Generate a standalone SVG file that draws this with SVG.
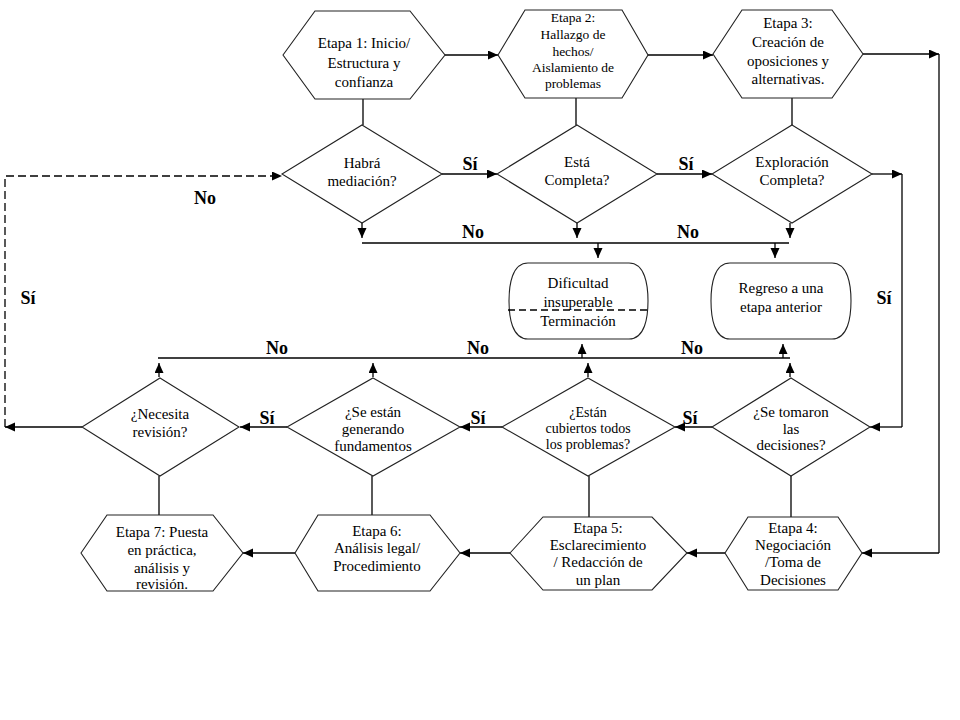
<svg xmlns="http://www.w3.org/2000/svg" width="960" height="720" viewBox="0 0 960 720" font-family="Liberation Serif">
<defs>
<marker id="ah" markerUnits="userSpaceOnUse" markerWidth="11" markerHeight="10" refX="10" refY="4.5" orient="auto">
<path d="M0,0 L10,4.5 L0,9 z" fill="#000"/>
</marker>
<style>
.sh{fill:#fff;stroke:#222;stroke-width:1.1}
.t{font-size:15px;fill:#000;text-anchor:middle}
.s{font-size:13.5px}
.m{font-size:14px}
.lb{font-size:18px;font-weight:bold;fill:#000;text-anchor:middle}
.c{fill:none;stroke:#000;stroke-width:1.3}
.a{marker-end:url(#ah)}
.d{stroke-dasharray:8,4}
</style>
</defs>
<rect width="960" height="720" fill="#fff"/>

<g id="connectors">
<path class="c a" d="M445,55 H498"/>
<path class="c a" d="M648,55 H713"/>
<path class="c a" d="M863,54 H939"/>
<path class="c" d="M939,54 V553"/>
<path class="c a" d="M939,553 H862"/>
<path class="c" d="M363,99 V125"/>
<path class="c" d="M576,98 V125"/>
<path class="c" d="M792,98 V125"/>
<path class="c a" d="M442,174 H497"/>
<path class="c a" d="M657,174 H712"/>
<path class="c a" d="M872,174 H902"/>
<path class="c" d="M902,174 V427"/>
<path class="c a" d="M902,427 H870"/>
<path class="c a" d="M362,223 V238"/>
<path class="c a" d="M577,223 V238"/>
<path class="c a" d="M790,223 V238"/>
<path class="c" d="M362,243 H789"/>
<path class="c a" d="M598,243 V258"/>
<path class="c a" d="M775,243 V258"/>
<path class="c" d="M158,358 H790"/>
<path class="c a" d="M582,358 V344"/>
<path class="c a" d="M783,358 V344"/>
<path class="c a" d="M159,377 V363"/>
<path class="c a" d="M373,377 V363"/>
<path class="c a" d="M588,377 V363"/>
<path class="c a" d="M790,377 V363"/>
<path class="c a" d="M712,427 H675"/>
<path class="c a" d="M502,427 H460"/>
<path class="c a" d="M287,427 H240"/>
<path class="c a" d="M82,427 H5"/>
<path class="c d a" d="M5,427 V176 H282"/>
<path class="c" d="M159,476 V515"/>
<path class="c" d="M372,476 V515"/>
<path class="c" d="M589,476 V517"/>
<path class="c" d="M791,476 V517"/>
<path class="c a" d="M725,553 H687"/>
<path class="c a" d="M510,553 H460"/>
<path class="c a" d="M295,553 H243"/>
</g>

<g id="labels">
<text class="lb" x="470" y="170">Sí</text>
<text class="lb" x="205" y="204">No</text>
<text class="lb" x="686" y="170">Sí</text>
<text class="lb" x="473" y="238">No</text>
<text class="lb" x="688" y="238">No</text>
<text class="lb" x="28" y="304">Sí</text>
<text class="lb" x="884" y="304">Sí</text>
<text class="lb" x="277" y="354">No</text>
<text class="lb" x="478" y="354">No</text>
<text class="lb" x="692" y="354">No</text>
<text class="lb" x="267" y="424">Sí</text>
<text class="lb" x="478" y="424">Sí</text>
<text class="lb" x="690" y="424">Sí</text>
</g>

<g id="etapa1">
<polygon class="sh" points="283,55 315,11 410,11 445,55 410,99 315,99"/>
<text class="t" x="364" y="48">Etapa 1: Inicio/</text>
<text class="t" x="364" y="68">Estructura y</text>
<text class="t" x="364" y="87">confianza</text>
</g>
<g id="etapa2">
<polygon class="sh" points="498,55 525,10 622,10 648,55 622,98 525,98"/>
<text class="t s" x="573" y="22">Etapa 2:</text>
<text class="t s" x="573" y="39">Hallazgo de</text>
<text class="t s" x="573" y="56">hechos/</text>
<text class="t s" x="573" y="72">Aislamiento de</text>
<text class="t s" x="573" y="88">problemas</text>
</g>
<g id="etapa3">
<polygon class="sh" points="713,54 742,10 832,10 863,54 832,98 742,98"/>
<text class="t" x="788" y="28">Etapa 3:</text>
<text class="t" x="788" y="47">Creación de</text>
<text class="t" x="788" y="65.5">oposiciones y</text>
<text class="t" x="788" y="84">alternativas.</text>
</g>

<g id="habra">
<polygon class="sh" points="362,125 442,174 362,223 282,174"/>
<text class="t" x="362" y="168">Habrá</text>
<text class="t" x="362" y="186">mediación?</text>
</g>
<g id="esta">
<polygon class="sh" points="577,125 657,174 577,223 497,174"/>
<text class="t" x="577" y="167">Está</text>
<text class="t" x="577" y="185">Completa?</text>
</g>
<g id="exploracion">
<polygon class="sh" points="792,125 872,174 792,223 712,174"/>
<text class="t" x="792" y="167">Exploración</text>
<text class="t" x="792" y="185">Completa?</text>
</g>

<g id="dificultad">
<path class="sh" d="M528,263 H629 C645,263 648,285 648,301 C648,317 645,339 629,339 H528 C512,339 509,317 509,301 C509,285 512,263 528,263 Z"/>
<text class="t" x="578" y="288">Dificultad</text>
<text class="t" x="578" y="307">insuperable</text>
<path class="c" d="M508,310 H650" stroke-dasharray="7,4"/>
<text class="t" x="578" y="326">Terminación</text>
</g>
<g id="regreso">
<path class="sh" d="M730,263 H832 C848,263 851,285 851,301 C851,317 848,339 832,339 H730 C714,339 711,317 711,301 C711,285 714,263 730,263 Z"/>
<text class="t" x="781" y="293">Regreso a una</text>
<text class="t" x="781" y="312">etapa anterior</text>
</g>

<g id="necesita">
<polygon class="sh" points="160,378 239,427 160,476 82,427"/>
<text class="t" x="160" y="419">¿Necesita</text>
<text class="t" x="160" y="437">revisión?</text>
</g>
<g id="seestan">
<polygon class="sh" points="373,378 460,427 373,476 287,427"/>
<text class="t" x="373" y="417">¿Se están</text>
<text class="t" x="373" y="434">generando</text>
<text class="t" x="373" y="451">fundamentos</text>
</g>
<g id="estan">
<polygon class="sh" points="588,378 675,427 588,476 502,427"/>
<text class="t m" x="588" y="417">¿Están</text>
<text class="t m" x="588" y="433">cubiertos todos</text>
<text class="t m" x="588" y="449">los problemas?</text>
</g>
<g id="setomaron">
<polygon class="sh" points="791,378 870,427 791,476 712,427"/>
<text class="t" x="791" y="417">¿Se tomaron</text>
<text class="t" x="791" y="434">las</text>
<text class="t" x="791" y="450">decisiones?</text>
</g>

<g id="etapa7">
<polygon class="sh" points="81,553 107,515 213,515 243,553 213,591 107,591"/>
<text class="t" x="162" y="537">Etapa 7: Puesta</text>
<text class="t" x="162" y="555">en práctica,</text>
<text class="t" x="162" y="573">análisis y</text>
<text class="t" x="162" y="589">revisión.</text>
</g>
<g id="etapa6">
<polygon class="sh" points="295,553 318,515 430,515 460,553 430,591 318,591"/>
<text class="t" x="377" y="536">Etapa 6:</text>
<text class="t" x="377" y="553">Análisis legal/</text>
<text class="t" x="377" y="571">Procedimiento</text>
</g>
<g id="etapa5">
<polygon class="sh" points="510,553 543,517 652,517 687,553 652,590 543,590"/>
<text class="t" x="598" y="533">Etapa 5:</text>
<text class="t" x="598" y="550">Esclarecimiento</text>
<text class="t" x="598" y="567">/ Redacción de</text>
<text class="t" x="598" y="585">un plan</text>
</g>
<g id="etapa4">
<polygon class="sh" points="725,553 748,517 838,517 862,553 838,590 748,590"/>
<text class="t" x="793" y="533">Etapa 4:</text>
<text class="t" x="793" y="550">Negociación</text>
<text class="t" x="793" y="567">/Toma de</text>
<text class="t" x="793" y="585">Decisiones</text>
</g>
</svg>
